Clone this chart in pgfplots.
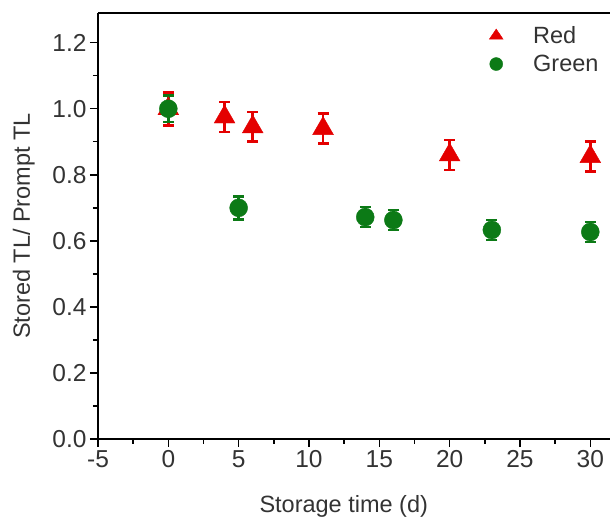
\documentclass[border=0pt]{standalone}
\usepackage{fontspec}
\setmainfont{Liberation Sans}
\usepackage{pgfplots}
\pgfplotsset{compat=1.18}
\definecolor{tlred}{RGB}{228,0,0}
\definecolor{tlgreen}{RGB}{12,122,22}

\begin{document}
\begin{tikzpicture}
\useasboundingbox (0,0) rectangle (610pt,518pt);
\begin{axis}[
  at={(98pt,79pt)}, anchor=south west,
  scale only axis, width=512pt, height=426pt,
  xmin=-5, xmax=31.4, ymin=0, ymax=1.29,
  axis x line*=bottom, axis y line*=left,
  axis line style={line width=1.4pt, -},
  tick align=outside,
  major tick length=8pt, minor tick length=5pt,
  every tick/.style={line width=1.4pt, black},
  xtick={-5,0,...,30}, ytick={0,0.2,...,1.2},
  minor x tick num=1, minor y tick num=1,
  /pgf/number format/assume math mode=true,
  yticklabel style={/pgf/number format/.cd, fixed, fixed zerofill, precision=1},
  ticklabel style={font=\fontsize{24.5}{28}\selectfont, text=black!80},
  label style={font=\fontsize{23.5}{27}\selectfont, text=black!80},
  xlabel={Storage time (d)}, ylabel={Stored TL/ Prompt TL},
  xlabel style={at={(axis description cs:0.48,-0.158)}, anchor=center},
  ylabel style={at={(axis description cs:-0.145,0.5)}, anchor=center},
  legend style={draw=none, fill=none, at={(0.758,0.978)}, anchor=north west,
    font=\fontsize{23.5}{27}\selectfont, text=black!80, row sep=6pt,
    /tikz/every odd column/.append style={column sep=28pt}},
  legend cell align=left,
  error bars/y dir=both, error bars/y explicit,
]
\addplot[only marks, color=tlred, mark=triangle*, mark size=12pt,
  error bars/error bar style={line width=2.6pt},
  error bars/error mark options={rotate=90, mark size=5.5pt, line width=2.6pt},
  legend image post style={mark size=8pt, yscale=0.85}]
  table[x=x, y=y, y error=e] {
  x y e
  0 1.00 0.05
  4 0.975 0.045
  6 0.945 0.045
  11 0.94 0.045
  20 0.86 0.045
  30 0.855 0.045
  };
\addlegendentry{Red}
\addplot[only marks, color=tlgreen, mark=*, mark size=9pt,
  error bars/error bar style={line width=2.6pt},
  error bars/error mark options={rotate=90, mark size=5.5pt, line width=2.6pt},
  legend image post style={mark size=6.5pt}]
  table[x=x, y=y, y error=e] {
  x y e
  0 1.00 0.04
  5 0.70 0.035
  14 0.672 0.03
  16 0.663 0.03
  23 0.633 0.03
  30 0.627 0.03
  };
\addlegendentry{Green}
\end{axis}
\draw[line width=1.4pt] (98pt,505pt) -- (610pt,505pt);
\end{tikzpicture}
\end{document}
